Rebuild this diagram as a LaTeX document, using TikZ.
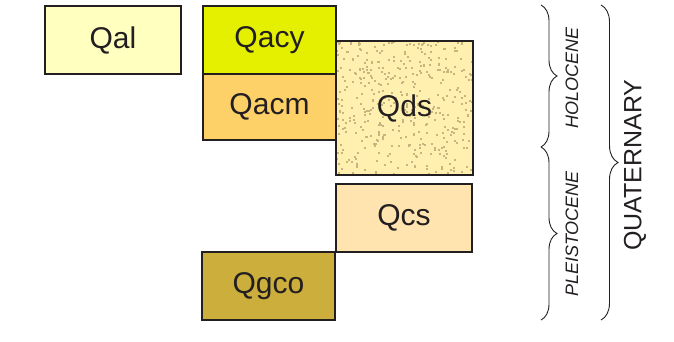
\documentclass[tikz,border=0pt]{standalone}
\usepackage{fontspec}
\setmainfont{Liberation Sans}
\usetikzlibrary{positioning, decorations.pathreplacing}

\definecolor{inkc}{HTML}{231F20}
\definecolor{qalc}{HTML}{FFFFBF}
\definecolor{qacyc}{HTML}{E5F000}
\definecolor{qacmc}{HTML}{FED068}
\definecolor{qdsc}{HTML}{FFF0B0}
\definecolor{dotc}{HTML}{C8B47E}
\definecolor{qcsc}{HTML}{FFE4B0}
\definecolor{qgcoc}{HTML}{CCAE3C}

\begin{document}
\begin{tikzpicture}[
        x=1pt, y=-1pt,
        box/.style={rectangle, draw=inkc, line width=2.4pt, outer sep=0pt, inner sep=0pt,
            minimum width=133pt, minimum height=68pt, text=inkc,
            font=\fontsize{30}{35}\selectfont},
        bracket/.style={decorate, decoration={brace, amplitude=16pt}, draw=inkc, line width=0.9pt},
        epoch/.style={rotate=90, text=inkc, font=\fontsize{18}{22}\selectfont\itshape},
        period/.style={rotate=90, text=inkc, font=\fontsize{25}{30}\selectfont}
    ]
        \useasboundingbox (0,0) rectangle (674,342);

        \node[box, fill=qalc, minimum width=136pt] (qal) at (113,40) {Qal};
        \node[box, fill=qacyc] (qacy) at (269.5,40) {Qacy};
        \node[box, fill=qacmc, minimum height=66pt, below=0pt of qacy] (qacm) {Qacm};
        \node[box, fill=qdsc, minimum width=137pt, minimum height=134pt,
            path picture={
                \pgfmathsetseed{11}
                \foreach \i in {1,...,430}{
                    \pgfmathsetmacro\dx{rnd*137}
                    \pgfmathsetmacro\dy{rnd*134}
                    \fill[dotc] ([shift={(\dx,\dy)}]path picture bounding box.north west) rectangle ++(2,2);
                }
            }] (qds) at (404.5,108) {Qds};
        \node[box, fill=qcsc, minimum width=136pt] (qcs) at (404,218) {Qcs};
        \node[box, fill=qgcoc] (qgco) at (268.5,286) {Qgco};

        % braces on the right
        \coordinate (holtop) at (541,5);
        \coordinate (holbot) at (541,147);
        \coordinate (plebot) at (541,320);
        \coordinate (quatop) at (601,5);
        \coordinate (quabot) at (601,320);

        \draw[bracket] (holtop) -- (holbot);
        \draw[bracket] (holbot) -- (plebot);
        \draw[bracket, decoration={amplitude=17pt}] (quatop) -- (quabot);

        \node[epoch] (holocene) at (572,78) {HOLOCENE};
        \node[epoch] (pleistocene) at (572,234) {PLEISTOCENE};
        \node[period] (quaternary) at (635,165) {QUATERNARY};
    \end{tikzpicture}
\end{document}
